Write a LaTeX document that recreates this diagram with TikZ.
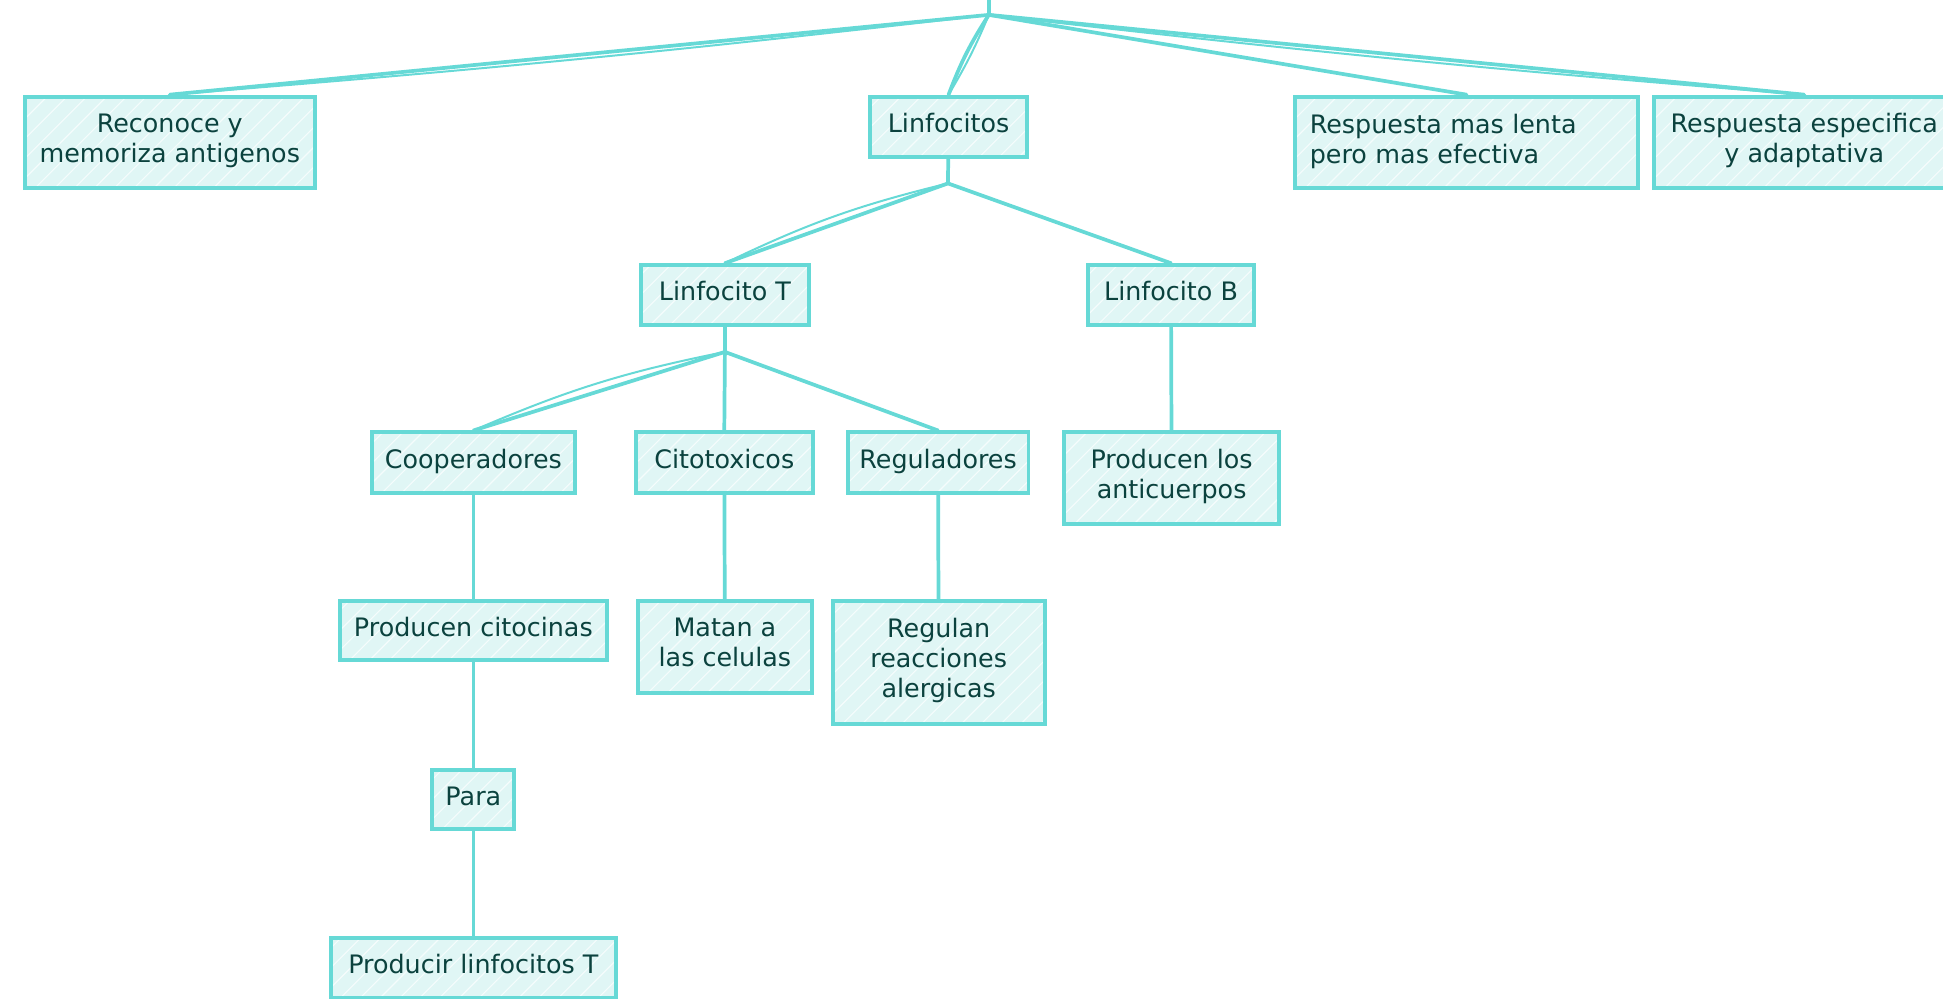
\documentclass[tikz,border=0pt]{standalone}
\usepackage{fontspec}
\setmainfont{DejaVu Sans}
\usetikzlibrary{positioning}
\definecolor{mapline}{HTML}{66D9D6}
\definecolor{mapfill}{HTML}{E0F6F5}
\definecolor{maptext}{HTML}{0B423E}
\tikzset{
    % Boxes of the concept map, with a light hachure fill
    concept/.style={
        draw=mapline, line width=3.2pt, fill=mapfill,
        text=maptext, align=center, inner sep=0pt,
        font=\fontsize{20.5}{24}\selectfont,
        execute at begin node=\strut, execute at end node=\strut,
        path picture={
            \foreach \k in {-120,-104,...,260}
                \draw [white, line width=0.9pt, opacity=0.7]
                    ([xshift=\k pt]path picture bounding box.south west)
                    -- ++(110pt,110pt);}},
%
    % Connectors between the concepts
    link/.style={draw=mapline, line width=3pt, line cap=round},
%
    % A thinner second stroke for the sketchy look
    sketch/.style={draw=mapline, line width=1.6pt, line cap=round}}

\begin{document}
\begin{tikzpicture}[x=1pt, y=-1pt]
\useasboundingbox (0,0) rectangle (1568,806);

% Top row
\node [concept, minimum width=234pt, minimum height=74pt]
    (reconoce) at (137,115) {Reconoce y\\memoriza antigenos};
\node [concept, minimum width=127pt, minimum height=49pt]
    (linfocitos) at (765.5,102.5) {Linfocitos};
\node [concept, minimum width=277pt, minimum height=74pt,
    text width=253pt, align=left]
    (lenta) at (1183.5,115) {Respuesta mas lenta\\pero mas efectiva};
\node [concept, minimum width=242pt, minimum height=74pt]
    (especifica) at (1456,115) {Respuesta especifica\\y adaptativa};

% Lymphocyte kinds
\node [concept, minimum width=136pt, minimum height=48pt]
    (linfT) at (585,238) {Linfocito T};
\node [concept, minimum width=134pt, minimum height=48pt]
    (linfB) at (945,238) {Linfocito B};

% Kinds of T cells
\node [concept, minimum width=164pt, minimum height=49pt]
    (coop) at (382,373.5) {Cooperadores};
\node [concept, minimum width=143pt, minimum height=49pt]
    (cito) at (584.5,373.5) {Citotoxicos};
\node [concept, minimum width=146pt, minimum height=49pt]
    (regul) at (757,373.5) {Reguladores};
\node [concept, minimum width=173pt, minimum height=74pt]
    (anticuerpos) at (945.5,386) {Producen los\\anticuerpos};

% What they do
\node [concept, minimum width=216pt, minimum height=48pt]
    (citocinas) at (382,509) {Producen citocinas};
\node [concept, minimum width=140pt, minimum height=74pt]
    (matan) at (585,522) {Matan a\\las celulas};
\node [concept, minimum width=171pt, minimum height=99pt]
    (regulan) at (757.5,534.5) {Regulan\\reacciones\\alergicas};
\node [concept, minimum width=66pt, minimum height=48pt]
    (para) at (382,645) {Para};
\node [concept, minimum width=230pt, minimum height=48pt]
    (producir) at (382,781) {Producir linfocitos T};

% Branching from the root above the picture
\coordinate (top) at (798,-2);
\coordinate (hub) at (798,12);
\draw [link] (top) -- (hub);
\foreach \n in {reconoce, lenta, especifica}
    \draw [link] (hub) -- (\n.north);
\draw [sketch] (hub) to[bend left=1] (reconoce.north);
\draw [sketch] (hub) to[bend right=1] (especifica.north);
\draw [link] (hub) to[bend right=6] (linfocitos.north);
\draw [sketch] (hub) to[bend left=4] (linfocitos.north);

% Linfocitos to T and B
\coordinate (split lin) at (765,148);
\draw [link] (linfocitos) -- (split lin);
\draw [link] (split lin) -- (linfT.north);
\draw [sketch] (split lin) to[bend right=6] (linfT.north);
\draw [link] (split lin) -- (linfB.north);

% T cells to their kinds
\coordinate (split T) at (585,284);
\draw [link] (linfT) -- (split T);
\draw [link] (split T) -- (coop.north);
\draw [sketch] (split T) to[bend right=6] (coop.north);
\draw [link] (split T) -- (cito.north);
\draw [link] (split T) -- (regul.north);

% Vertical chains
\draw [link] (linfB) -- (anticuerpos);
\draw [link] (coop) -- (citocinas);
\draw [link] (cito) -- (matan);
\draw [link] (regul) -- (regulan);
\draw [link] (citocinas) -- (para);
\draw [link] (para) -- (producir);

\end{tikzpicture}
\end{document}
